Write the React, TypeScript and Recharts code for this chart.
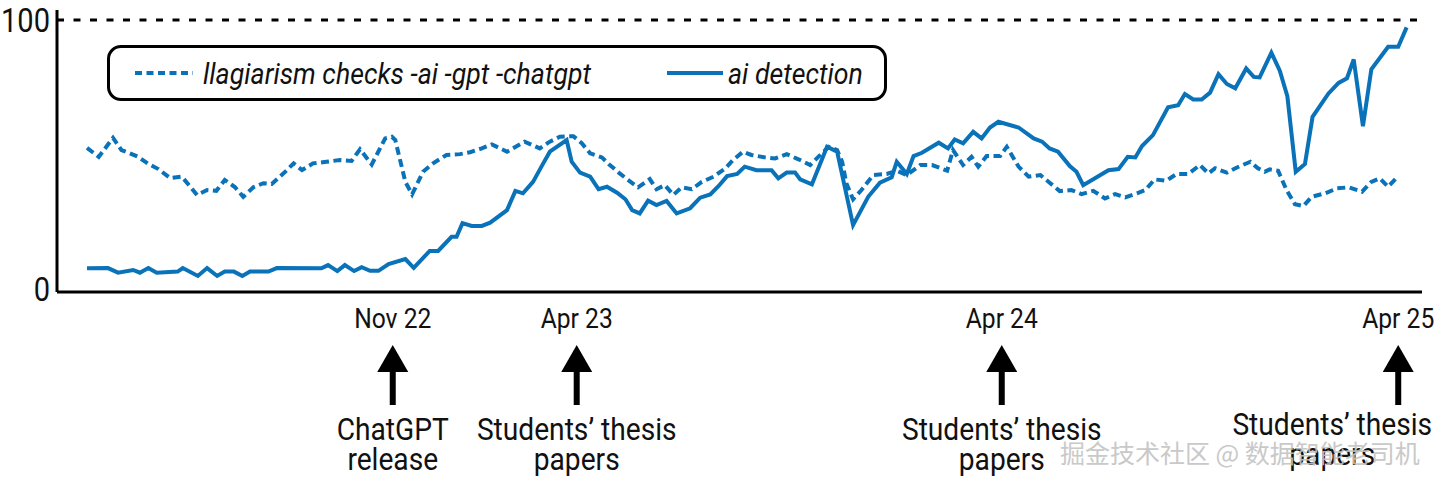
import { LineChart, Line, XAxis, YAxis, ReferenceLine } from 'recharts'

const FONT = "Roboto, 'Liberation Sans', sans-serif"
const BLUE = '#0a72b8'
// the source uses a condensed face; squeeze Roboto horizontally
const SQUEEZE = 0.88

// weeks since start of the series (Google Trends, weekly), value 0-100
const plagWeeks = [
  0, 1.4, 3.1, 4.1, 5.1, 6.1, 7.3, 8.5, 9.9, 11.3,
  13.1, 14.3, 15.4, 16.4, 17.6, 18.6, 19.8, 21.0, 22.0, 23.8,
  24.6, 25.6, 26.9, 28.5, 30.1, 31.5, 32.5, 33.9, 35.5, 36.3,
  36.7, 37.9, 38.7, 40.0, 41.2, 42.8, 44.4, 45.6, 47.0, 48.2,
  50.0, 52.1, 53.9, 55.1, 56.3, 57.9, 58.9, 59.9, 61.3, 62.1,
  63.3, 64.4, 65.6, 67.0, 67.8, 68.8, 69.8, 70.8, 72.0, 73.2,
  74.6, 76.0, 76.9, 78.1, 79.1, 80.7, 81.9, 83.3, 84.7, 86.1,
  87.3, 88.3, 89.3, 89.9, 90.4, 91.2, 92.2, 93.6, 95.2, 96.4,
  97.6, 99.2, 100.6, 102.4, 103.1, 104.3, 105.3, 106.1, 107.1, 108.7,
  109.5, 110.9, 112.1, 113.5, 114.6, 115.8, 117.2, 118.4, 119.8, 121.2,
  122.4, 123.6, 125.0, 126.0, 127.1, 128.5, 129.7, 131.1, 132.5, 133.5,
  134.3, 135.7, 136.9, 138.5, 139.4, 140.2, 140.8, 141.8, 142.8, 143.8,
  144.8, 145.8, 147.4, 148.8, 150.2, 151.8, 152.9, 153.9, 154.9, 156.1,
]
const plagValues = [
  53.0, 49.7, 56.7, 52.2, 51.0, 49.7, 47.1, 45.2, 41.9, 42.4,
  35.7, 37.5, 37.2, 41.2, 38.6, 35.0, 38.5, 40.0, 39.7, 44.8,
  47.3, 44.8, 47.3, 47.9, 48.5, 48.2, 52.5, 46.9, 56.5, 57.1,
  55.9, 40.5, 35.9, 44.2, 47.3, 50.4, 50.7, 51.4, 52.8, 54.3,
  51.6, 55.3, 52.8, 55.3, 57.1, 57.3, 54.7, 51.0, 49.5, 47.1,
  43.9, 41.2, 38.5, 41.5, 37.8, 39.3, 35.7, 38.5, 37.8, 40.5,
  42.4, 45.5, 48.5, 51.6, 50.4, 49.5, 49.1, 50.7, 48.8, 46.7,
  50.4, 53.4, 52.2, 47.9, 40.0, 34.1, 37.5, 43.0, 43.4, 44.6,
  43.0, 46.7, 46.7, 44.6, 52.2, 46.7, 49.7, 46.1, 50.0, 50.0,
  53.4, 46.1, 42.4, 43.0, 40.2, 37.1, 37.5, 36.0, 37.2, 34.4,
  36.0, 34.8, 36.3, 37.5, 41.4, 40.9, 43.4, 43.4, 46.7, 43.6,
  45.5, 43.9, 45.8, 47.9, 45.5, 44.2, 45.1, 44.6, 37.5, 32.3,
  31.6, 35.0, 36.3, 38.1, 38.5, 36.9, 40.5, 41.8, 38.7, 42.6,
]

const aiWeeks = [
  0, 2.5, 3.7, 5.5, 6.3, 7.3, 8.3, 10.8, 11.4, 13.2,
  14.3, 15.5, 16.4, 17.5, 18.5, 19.4, 21.6, 22.6, 27.9, 28.7,
  29.8, 30.7, 31.8, 32.7, 33.7, 34.7, 35.9, 37.9, 38.9, 40.8,
  41.8, 43.4, 44.0, 44.7, 45.8, 47.0, 48.0, 50.0, 51.0, 51.9,
  53.1, 54.1, 55.1, 57.1, 57.7, 58.7, 59.9, 60.9, 61.9, 63.1,
  64.1, 64.9, 65.8, 66.8, 67.8, 69.0, 70.2, 71.8, 73.0, 74.2,
  75.2, 76.2, 77.4, 78.3, 79.7, 81.5, 82.3, 83.3, 84.3, 84.9,
  86.3, 88.1, 89.3, 91.2, 93.0, 94.4, 95.8, 96.4, 97.6, 98.4,
  99.4, 101.4, 102.5, 103.3, 104.3, 105.5, 106.5, 107.5, 108.5, 110.9,
  112.7, 113.7, 114.6, 115.6, 117.0, 117.8, 118.6, 121.6, 122.8, 123.9,
  124.8, 125.6, 126.9, 128.7, 129.9, 130.7, 131.7, 132.7, 133.7, 134.7,
  135.7, 136.7, 138.0, 138.9, 139.6, 141.0, 142.0, 142.9, 143.9, 145.0,
  145.9, 147.8, 149.0, 150.0, 150.8, 151.9, 152.9, 154.9, 156.1, 157.1,
]
const aiValues = [
  8.7, 8.8, 7.1, 8.1, 7.1, 8.8, 7.1, 7.5, 8.8, 5.9,
  8.8, 5.9, 7.5, 7.5, 5.9, 7.5, 7.5, 8.8, 8.7, 9.9,
  7.7, 9.9, 7.7, 9.1, 7.8, 7.8, 10.3, 12.1, 8.9, 15.1,
  15.1, 20.3, 20.3, 25.3, 24.3, 24.3, 25.5, 30.1, 37.2, 36.3,
  40.5, 46.1, 51.6, 55.9, 47.9, 43.9, 42.4, 37.8, 38.7, 36.5,
  34.1, 30.1, 28.9, 33.6, 32.0, 33.5, 28.9, 30.8, 34.7, 35.9,
  39.0, 42.6, 43.4, 46.1, 44.8, 44.8, 41.8, 43.9, 43.9, 41.4,
  39.6, 53.4, 51.6, 24.6, 35.0, 40.2, 42.2, 47.9, 43.4, 50.0,
  51.2, 54.9, 52.8, 56.1, 54.7, 58.9, 56.5, 60.5, 62.6, 60.5,
  56.5, 55.3, 52.8, 51.6, 46.3, 44.2, 39.3, 44.8, 45.2, 49.7,
  49.5, 53.7, 57.7, 67.9, 68.7, 72.8, 70.8, 70.8, 73.3, 80.1,
  76.5, 74.9, 82.2, 79.1, 78.9, 88.0, 81.4, 72.0, 44.2, 47.1,
  64.4, 73.0, 76.9, 78.6, 85.5, 61.0, 81.9, 90.2, 90.2, 97.3,
]

const tickWeeks = [36.4, 58.3, 108.9, 156.1]
const tickLabels = ['Nov 22', 'Apr 23', 'Apr 24', 'Apr 25']
const noteLines = [
  ['ChatGPT', 'release'],
  ['Students’ thesis', 'papers'],
  ['Students’ thesis', 'papers'],
  ['Students’ thesis', 'papers'],
]

const plagData = plagWeeks.map((week, i) => ({ week, value: plagValues[i] }))
const aiData = aiWeeks.map((week, i) => ({ week, value: aiValues[i] }))

function Narrow({ x, y, size, anchor = 'middle', children }: any) {
  return (
    <text
      transform={`translate(${x},${y}) scale(${SQUEEZE},1)`}
      textAnchor={anchor}
      fontSize={size}
      fontFamily={FONT}
      fill="#111"
    >
      {children}
    </text>
  )
}

function DateTick({ x, y, payload }: any) {
  const i = tickWeeks.findIndex(t => Math.abs(t - payload.value) < 0.01)
  if (i < 0) return null
  // last note is pushed left so it fits inside the page
  const dx = i === 3 ? -66 : 0
  const dy = i === 3 ? -5 : 0
  return (
    <g transform={`translate(${x},${y})`}>
      <Narrow x={0} y={36} size={28}>{tickLabels[i]}</Narrow>
      <polygon points="0,53 -15.5,80 15.5,80" fill="#000" />
      <rect x={-3} y={79} width={6} height={34} fill="#000" />
      {noteLines[i].map((s, k) => (
        <Narrow key={k} x={dx} y={148 + k * 30 + dy} size={32}>{s}</Narrow>
      ))}
    </g>
  )
}

function ValueTick({ x, y, payload }: any) {
  return (
    <Narrow x={x} y={y + (payload.value === 0 ? 9 : 12)} size={33} anchor="end">
      {payload.value}
    </Narrow>
  )
}

const legendText = {
  position: 'absolute' as const,
  top: 8,
  lineHeight: '36px',
  whiteSpace: 'nowrap' as const,
  transform: 'scaleX(0.89)',
  transformOrigin: 'left center',
}

export default function App() {
  return (
    <div style={{ position: 'absolute', left: 0, top: 0, width: 1436, height: 482, background: '#fff', fontFamily: FONT }}>
      <LineChart width={1436} height={482} margin={{ top: 10, right: 14, bottom: 0, left: 0 }}>
        <XAxis
          dataKey="week"
          type="number"
          domain={[-3.57, 158.93]}
          allowDataOverflow
          ticks={tickWeeks}
          interval={0}
          tick={<DateTick />}
          tickLine={false}
          tickSize={0}
          tickMargin={0}
          axisLine={{ stroke: '#000', strokeWidth: 3 }}
          height={190}
        />
        <YAxis
          type="number"
          domain={[0, 103.7]}
          ticks={[0, 100]}
          tick={<ValueTick />}
          tickLine={false}
          tickSize={0}
          tickMargin={7}
          axisLine={{ stroke: '#000', strokeWidth: 3 }}
          width={57}
        />
        <ReferenceLine y={100} stroke="#000" strokeWidth={3} strokeDasharray="7 9.5" />
        <Line
          data={plagData}
          dataKey="value"
          stroke={BLUE}
          strokeWidth={4}
          strokeDasharray="8 4.5"
          dot={false}
          isAnimationActive={false}
        />
        <Line
          data={aiData}
          dataKey="value"
          stroke={BLUE}
          strokeWidth={4}
          dot={false}
          isAnimationActive={false}
        />
      </LineChart>

      <div
        style={{
          position: 'absolute', left: 107, top: 45, width: 780, height: 56,
          border: '3px solid #000', borderRadius: 14, boxSizing: 'border-box',
          fontStyle: 'italic', fontSize: 30, color: '#111',
        }}
      >
        <svg width={58} height={8} style={{ position: 'absolute', left: 25, top: 21 }}>
          <line x1={0} y1={4} x2={58} y2={4} stroke={BLUE} strokeWidth={4} strokeDasharray="7 4.5" />
        </svg>
        <span style={{ ...legendText, left: 93 }}>llagiarism checks -ai -gpt -chatgpt</span>
        <svg width={56} height={8} style={{ position: 'absolute', left: 557, top: 21 }}>
          <line x1={0} y1={4} x2={56} y2={4} stroke={BLUE} strokeWidth={4} />
        </svg>
        <span style={{ ...legendText, left: 618 }}>ai detection</span>
      </div>

      <div
        style={{
          position: 'absolute', left: 1060, top: 434, whiteSpace: 'nowrap',
          fontFamily: "'Noto Sans CJK SC', sans-serif", fontSize: 25, color: '#c4c4c4', opacity: 0.9,
        }}
      >
        掘金技术社区 @ 数据智能老司机
      </div>
    </div>
  )
}
